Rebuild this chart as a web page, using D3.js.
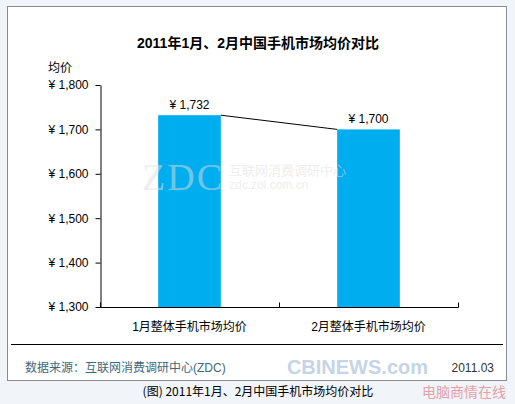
<!DOCTYPE html>
<html>
<head>
<meta charset="utf-8">
<script src="https://cdn.jsdelivr.net/npm/d3@7"></script>
<style>
  body { margin: 0; background: #f1f4f9; }
  svg { display: block; font-family: "Liberation Sans", Arial, "Noto Sans CJK SC", sans-serif; }
</style>
</head>
<body>
<svg id="chart" width="515" height="404"></svg>
<script>
// data
var categories = ['1月整体手机市场均价', '2月整体手机市场均价'];
var prices = [1732, 1700];
var yTicks = [1300, 1400, 1500, 1600, 1700, 1800];

var svg = d3.select('#chart');

// white panel
svg.append('rect')
   .attr('x', 7.5).attr('y', 6.5)
   .attr('width', 499).attr('height', 374)
   .attr('fill', '#fff')
   .attr('stroke', '#8a8a8a');

// title
svg.append('text')
   .attr('x', 258).attr('y', 48)
   .attr('text-anchor', 'middle')
   .attr('font-size', 14)
   .attr('font-weight', 'bold')
   .text('2011年1月、2月中国手机市场均价对比');

svg.append('text')
   .attr('x', 48).attr('y', 72)
   .attr('font-size', 12)
   .text('均价');

// scales - one band per month, bar is a narrow part of it
var x = d3.scaleBand().domain(categories).range([100, 458]);
var barW = x.bandwidth() * 0.35;
var y = d3.scaleLinear().domain([1300, 1800]).range([307, 85]);
var cx = d => x(d) + x.bandwidth() / 2;

var fmt = d3.format(',');

// y axis
var yAxis = svg.append('g')
   .attr('transform', 'translate(100.5,0)')
   .call(d3.axisLeft(y).tickValues(yTicks).tickSize(5).tickSizeOuter(0).tickFormat(d => '¥ ' + fmt(d)));
yAxis.select('.domain').attr('stroke', '#000');
yAxis.selectAll('text').attr('font-size', 12).attr('fill', '#000').attr('x', -12);

// x axis (ticks between categories)
var xAxis = svg.append('g')
   .attr('transform', 'translate(0,307.5)');
xAxis.append('line')
   .attr('x1', 100).attr('x2', 458.5)
   .attr('stroke', '#000');
xAxis.selectAll('line.tick')
   .data(categories.map(d => x(d)).concat([458]))
   .enter()
   .append('line')
   .attr('class', 'tick')
   .attr('x1', d => Math.round(d) + 0.5).attr('x2', d => Math.round(d) + 0.5)
   .attr('y1', 0).attr('y2', -5)
   .attr('stroke', '#000');
svg.selectAll('text.cat')
   .data(categories)
   .enter()
   .append('text')
   .attr('class', 'cat')
   .attr('x', cx)
   .attr('y', 331)
   .attr('text-anchor', 'middle')
   .attr('font-size', 12)
   .text(d => d);

// bars
svg.selectAll('rect.bar')
   .data(prices)
   .enter()
   .append('rect')
   .attr('class', 'bar')
   .attr('x', (d, i) => cx(categories[i]) - barW / 2)
   .attr('y', d => y(d))
   .attr('width', barW)
   .attr('height', d => y(1300) - y(d))
   .attr('fill', '#00adef');

// connector line
svg.append('line')
   .attr('x1', cx(categories[0]) + barW / 2).attr('y1', y(prices[0]))
   .attr('x2', cx(categories[1]) - barW / 2).attr('y2', y(prices[1]))
   .attr('stroke', '#000')
   .attr('stroke-width', 1);

// value labels
svg.selectAll('text.val')
   .data(prices)
   .enter()
   .append('text')
   .attr('class', 'val')
   .attr('x', (d, i) => cx(categories[i]))
   .attr('y', d => y(d) - 6)
   .attr('text-anchor', 'middle')
   .attr('font-size', 12)
   .text(d => '¥ ' + fmt(d));

// ZDC watermark over the plot
var wm = svg.append('g').attr('fill', '#dedede').attr('opacity', 0.5);
wm.append('text')
   .attr('x', 142).attr('y', 190)
   .attr('font-family', '"Liberation Serif", serif')
   .attr('font-size', 38)
   .attr('textLength', 80)
   .text('ZDC');
wm.append('text')
   .attr('x', 229).attr('y', 175)
   .attr('font-size', 13)
   .text('互联网消费调研中心');
wm.append('text')
   .attr('x', 229).attr('y', 189)
   .attr('font-size', 12)
   .text('zdc.zol.com.cn');

// footer
svg.append('line')
   .attr('x1', 11).attr('x2', 503)
   .attr('y1', 344.5).attr('y2', 344.5)
   .attr('stroke', '#000');
svg.append('text')
   .attr('x', 25).attr('y', 372)
   .attr('font-size', 12)
   .attr('fill', '#3f6878')
   .text('数据来源：互联网消费调研中心(ZDC)');

// CBINEWS watermark
svg.append('text')
   .attr('x', 428).attr('y', 374)
   .attr('text-anchor', 'end')
   .attr('font-size', 20)
   .attr('font-weight', 'bold')
   .attr('fill', '#9fb8d8')
   .attr('opacity', 0.6)
   .text('CBINEWS.com');

svg.append('text')
   .attr('x', 494).attr('y', 372)
   .attr('text-anchor', 'end')
   .attr('font-size', 12)
   .attr('fill', '#333')
   .text('2011.03');

// caption
svg.append('text')
   .attr('x', 258).attr('y', 396)
   .attr('text-anchor', 'middle')
   .attr('font-family', '"Noto Sans CJK SC", sans-serif')
   .attr('font-size', 12)
   .attr('fill', '#000')
   .text('(图) 2011年1月、2月中国手机市场均价对比');
svg.append('text')
   .attr('x', 506).attr('y', 397)
   .attr('text-anchor', 'end')
   .attr('font-family', '"Noto Sans CJK SC", sans-serif')
   .attr('font-size', 14)
   .attr('fill', '#e5a0a8')
   .text('电脑商情在线');
</script>
</body>
</html>
